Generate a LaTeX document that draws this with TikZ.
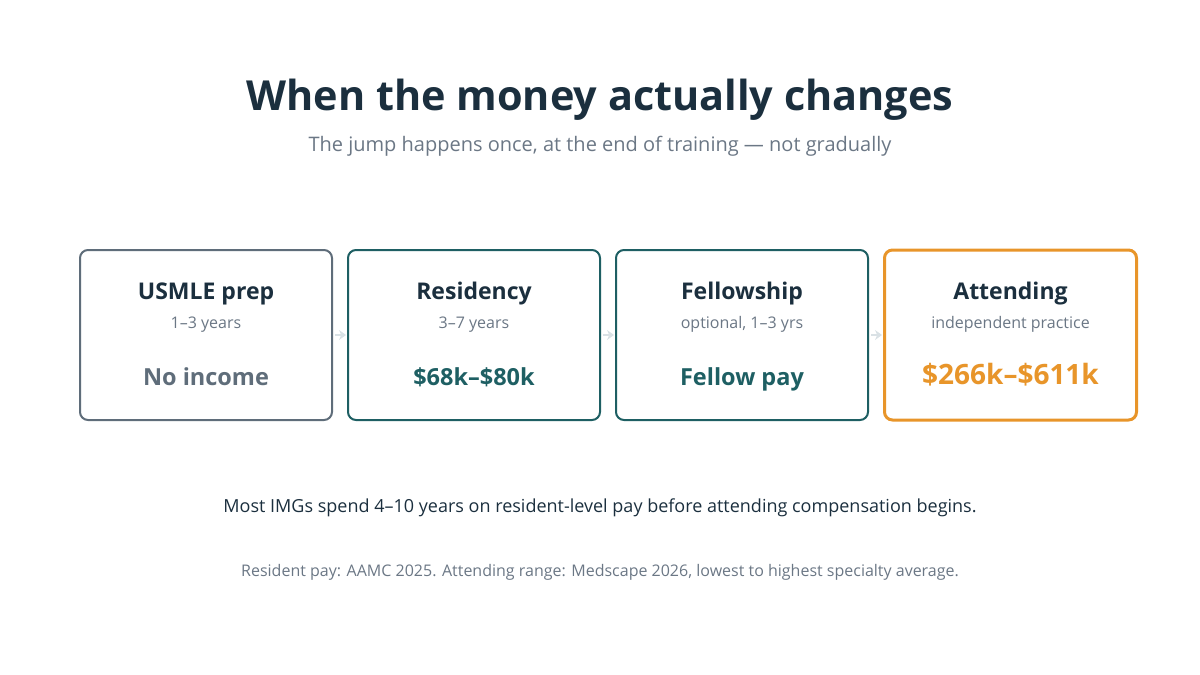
\documentclass[tikz,border=0pt]{standalone}
\usepackage{fontspec}
\setmainfont{Open Sans}
\usetikzlibrary{arrows.meta}
\definecolor{ink}{HTML}{1B2F3E}
\definecolor{muted}{HTML}{6B7785}
\definecolor{slate}{HTML}{5F6D7A}
\definecolor{teal}{HTML}{1E5F63}
\definecolor{amber}{HTML}{E8952A}
\definecolor{faint}{HTML}{D9E1E5}
\tikzset{
  card/.style={draw=#1, line width=2pt, rounded corners=8pt, minimum width=252pt, minimum height=170pt, inner sep=0pt, fill=white},
  cardtitle/.style={anchor=base, text=ink, font=\fontsize{23}{27}\selectfont\bfseries, inner sep=0pt},
  cardsub/.style={anchor=base, text=muted, font=\fontsize{16}{19}\selectfont, inner sep=0pt},
  cardval/.style={anchor=base, text=#1, font=\fontsize{23.5}{28}\selectfont\bfseries, inner sep=0pt},
  flow/.style={draw=faint, line width=2.5pt, -{Stealth[length=7pt,width=10pt]}, shorten <=2pt, shorten >=1pt},
}
\begin{document}
\begin{tikzpicture}[x=1pt,y=-1pt]
\useasboundingbox (0,0) rectangle (1200,675);
\node[anchor=base, text=ink, font=\fontsize{41.4}{49}\selectfont\bfseries, inner sep=0pt] (title) at (600,110) {When the money actually changes};
\node[anchor=base, text=muted, font=\fontsize{20}{24}\selectfont, inner sep=0pt] (subtitle) at (600,151) {The jump happens once, at the end of training — not gradually};

\node[card=slate] (b1) at (206,335) {};
\node[card=teal] (b2) at (474,335) {};
\node[card=teal] (b3) at (742,335) {};
\node[card=amber, line width=3pt] (b4) at (1010.5,335) {};

\draw[flow] (b1.east) -- (b2.west);
\draw[flow] (b2.east) -- (b3.west);
\draw[flow] (b3.east) -- (b4.west);

\node[cardtitle] (t1) at (206,299) {USMLE prep};
\node[cardsub] (s1) at (206,328) {1–3 years};
\node[cardval=slate] (v1) at (206,385) {No income};

\node[cardtitle] (t2) at (474,299) {Residency};
\node[cardsub] (s2) at (474,328) {3–7 years};
\node[cardval=teal] (v2) at (474,385) {\$68k–\$80k};

\node[cardtitle] (t3) at (742,299) {Fellowship};
\node[cardsub] (s3) at (742,328) {optional, 1–3 yrs};
\node[cardval=teal] (v3) at (742,385) {Fellow pay};

\node[cardtitle] (t4) at (1010.5,299) {Attending};
\node[cardsub] (s4) at (1010.5,328) {independent practice};
\node[cardval=amber, font=\fontsize{28}{33}\selectfont\bfseries] (v4) at (1010.5,384) {\$266k–\$611k};

\node[anchor=base, text=ink, font=\fontsize{18}{22}\selectfont, inner sep=0pt] (note) at (600,512) {Most IMGs spend 4–10 years on resident-level pay before attending compensation begins.};
\node[anchor=base, text=muted, font=\fontsize{16}{19}\selectfont, inner sep=0pt] (source) at (600,576) {Resident pay: AAMC 2025. Attending range: Medscape 2026, lowest to highest specialty average.};
\end{tikzpicture}
\end{document}
